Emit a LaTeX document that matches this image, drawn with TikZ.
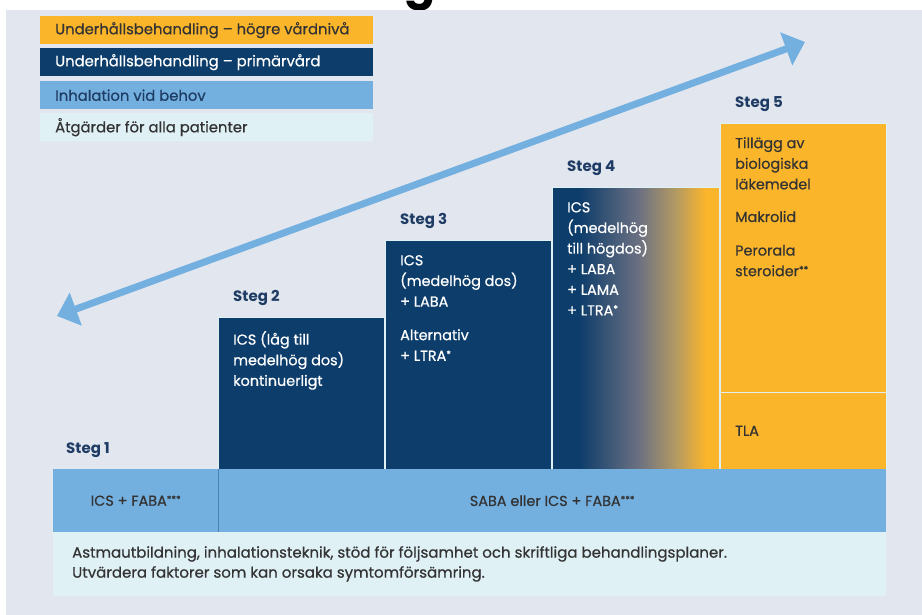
\documentclass[tikz,border=0pt]{standalone}
\usepackage{fontspec}
\setmainfont{Poppins}[UprightFeatures={FakeBold=0.6}]
\usepackage{xcolor}
\usepackage{tikz}
\usetikzlibrary{calc, arrows.meta, positioning}

\definecolor{bgcol}{HTML}{E2E6EF}
\definecolor{orangecol}{HTML}{FBB52A}
\definecolor{navycol}{HTML}{0D3D6B}
\definecolor{bluecol}{HTML}{73B0DF}
\definecolor{palecol}{HTML}{E0F1F6}
\definecolor{inkcol}{HTML}{333333}
\definecolor{stegcol}{HTML}{1F3C64}
\definecolor{fadegrey}{HTML}{6C7182}
\definecolor{fadetan}{HTML}{B49A63}

\newcommand{\fotstar}[1]{\raisebox{3.2pt}{\fontsize{9.5}{9.5}\selectfont #1}}

\pgfdeclarehorizontalshading{stegfade}{100bp}{color(0bp)=(navycol); color(25bp)=(navycol);
  color(33bp)=(navycol); color(51bp)=(fadegrey); color(62bp)=(fadetan); color(71bp)=(orangecol);
  color(100bp)=(orangecol)}

\tikzset{
    legendrow/.style = {rectangle, anchor=north west, minimum width=333pt, minimum height=28pt, inner sep=0pt},
    legendtext/.style = {inner sep=0pt, font=\fontsize{14.8}{17}\selectfont},
    stegbox/.style = {rectangle, anchor=north west, draw=palecol, line width=0.6pt, inner sep=0pt},
    barbox/.style = {rectangle, anchor=north west, inner sep=0pt},
    stegnode/.style = {inner sep=0pt, text=stegcol, font=\fontsize{15}{17}\selectfont\bfseries},
    boxtext/.style = {inner sep=0pt, align=left, text=white, font=\fontsize{14.4}{20.6}\selectfont},
    bartext/.style = {inner sep=0pt, text=inkcol, font=\fontsize{14.4}{17}\selectfont},
    foottext/.style = {inner sep=0pt, align=left, text=inkcol, font=\fontsize{15}{20}\selectfont},
    riskarrow/.style = {draw=bluecol, line width=7pt,
      {Triangle[length=20pt,width=34pt]}-{Triangle[length=20pt,width=34pt]}},
    bardivider/.style = {draw=bluecol!60!navycol, line width=0.6pt}
}

\begin{document}
\begin{tikzpicture}[x=1pt, y=-1pt]
    \useasboundingbox (0,0) rectangle (922,615);
    \fill[white] (0,0) rectangle (922,615);
    \fill[bgcol] (6,10) rectangle (922,615);
    \begin{scope}
      \clip (0,0) rectangle (922,10);
      \node [name=titlefrag, anchor=base, inner sep=0pt, font=\fontsize{46}{46}\selectfont\bfseries] at (420,-1) {g};
    \end{scope}

    \node [name=L1, legendrow, fill=orangecol] at (40,16) {};
    \node [name=L2, legendrow, fill=navycol] at (40,48) {};
    \node [name=L3, legendrow, fill=bluecol] at (40,81) {};
    \node [name=L4, legendrow, fill=palecol] at (40,113) {};
    \node [name=L1txt, legendtext, right=15pt of L1.west, text=inkcol] {Underhållsbehandling – högre vårdnivå};
    \node [name=L2txt, legendtext, right=15pt of L2.west, text=white] {Underhållsbehandling – primärvård};
    \node [name=L3txt, legendtext, right=15pt of L3.west, text=stegcol] {Inhalation vid behov};
    \node [name=L4txt, legendtext, right=15pt of L4.west, text=inkcol] {Åtgärder för alla patienter};

    \coordinate (lowend) at (57,316);
    \coordinate (highend) at (805,42);
    \draw [riskarrow] (lowend) -- (highend);

    \node [name=S2, stegbox, fill=navycol, minimum width=166pt, minimum height=152pt] at (218,317) {};
    \node [name=S3, stegbox, fill=navycol, minimum width=166pt, minimum height=229pt] at (385,240) {};
    \node [name=S4, stegbox, shade, shading=stegfade, minimum width=167pt, minimum height=282pt] at (552,187) {};
    \node [name=S5, stegbox, fill=orangecol, minimum width=166pt, minimum height=269pt] at (720,123) {};
    \node [name=S5b, stegbox, fill=orangecol, minimum width=166pt, minimum height=77pt] at (720,392) {};

    \node [name=BarA, barbox, fill=bluecol, minimum width=165pt, minimum height=63pt] at (53,469) {};
    \node [name=BarB, barbox, fill=bluecol, minimum width=668pt, minimum height=63pt] at (218,469) {};
    \node [name=Foot, barbox, fill=palecol, minimum width=833pt, minimum height=64pt] at (53,532) {};
    \draw [bardivider] (BarA.north east) -- (BarA.south east);

    \node [name=Steg1, stegnode, above right=11pt and 13pt of BarA.north west] {Steg 1};
    \node [name=Steg2, stegnode, above right=11pt and 15pt of S2.north west] {Steg 2};
    \node [name=Steg3, stegnode, above right=11pt and 15pt of S3.north west] {Steg 3};
    \node [name=Steg4, stegnode, above right=11pt and 15pt of S4.north west] {Steg 4};
    \node [name=Steg5, stegnode, above right=11pt and 15pt of S5.north west] {Steg 5};

    \node [name=S2txt, boxtext, below right=14pt and 15pt of S2.north west] {ICS (låg till\\medelhög dos)\\kontinuerligt};
    \node [name=S3txt, boxtext, below right=15pt and 15pt of S3.north west] {ICS\\(medelhög dos)\\+ LABA\\[13pt]Alternativ\\+ LTRA\fotstar{*}};
    \node [name=S4txt, boxtext, below right=15pt and 15pt of S4.north west] {ICS\\(medelhög\\till högdos)\\+ LABA\\+ LAMA\\+ LTRA\fotstar{*}};
    \node [name=S5txt, boxtext, text=inkcol, below right=14pt and 15pt of S5.north west] {Tillägg av\\biologiska\\läkemedel\\[12pt]Makrolid\\[13pt]Perorala\\steroider\fotstar{**}};
    \node [name=S5btxt, boxtext, text=inkcol, right=15pt of S5b.west] {TLA};

    \node [name=BarAtxt, bartext] at (BarA) {ICS + FABA\fotstar{***}};
    \node [name=BarBtxt, bartext] at (BarB) {SABA eller ICS + FABA\fotstar{***}};
    \node [name=Foottxt, foottext, below right=14pt and 19pt of Foot.north west] {Astmautbildning, inhalationsteknik, stöd för följsamhet och skriftliga behandlingsplaner.\\Utvärdera faktorer som kan orsaka symtomförsämring.};
\end{tikzpicture}
\end{document}
